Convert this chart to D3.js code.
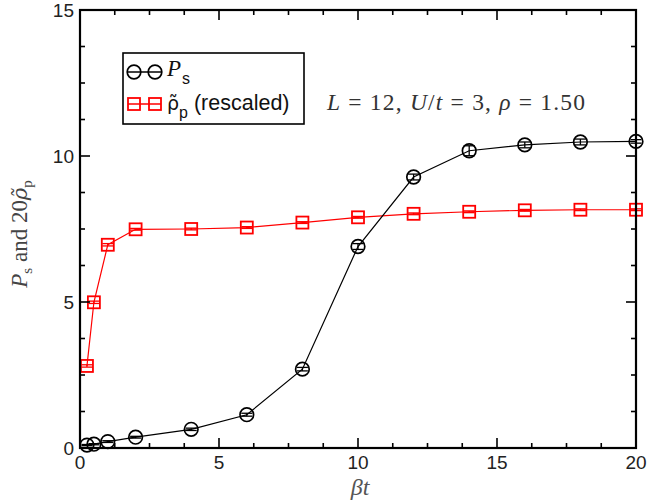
<!DOCTYPE html>
<html>
<head>
<meta charset="utf-8">
<script src="https://cdn.jsdelivr.net/npm/d3@7"></script>
<style>
  body { margin: 0; background: #fff; }
  svg { display: block; }
</style>
</head>
<body>
<div id="chart"></div>
<script>
// data
const betaT = [0.25, 0.5, 1, 2, 4, 6, 8, 10, 12, 14, 16, 18, 20];
const psVals = [0.10, 0.13, 0.22, 0.37, 0.64, 1.14, 2.70, 6.90, 9.28, 10.18, 10.38, 10.48, 10.50];
const psErr = [0.02, 0.02, 0.03, 0.03, 0.04, 0.05, 0.06, 0.10, 0.10, 0.17, 0.10, 0.10, 0.06];
const rhoVals = [2.81, 4.99, 6.96, 7.49, 7.50, 7.55, 7.72, 7.90, 8.02, 8.09, 8.14, 8.16, 8.16];
const rhoErr = [0.04, 0.04, 0.04, 0.03, 0.03, 0.03, 0.03, 0.03, 0.03, 0.03, 0.03, 0.03, 0.03];
const xTicks = [0, 5, 10, 15, 20];
const yTicks = [0, 5, 10, 15];

const W = 648, H = 502;
const m = { left: 80, right: 12, top: 10, bottom: 54 };
const svg = d3.select('#chart').append('svg').attr('width', W).attr('height', H);

const x = d3.scaleLinear().domain([0, 20]).range([m.left, W - m.right]);
const y = d3.scaleLinear().domain([0, 15]).range([H - m.bottom, m.top]);

const sans = '"Liberation Sans", Arial, sans-serif';
const serif = '"Liberation Serif", "DejaVu Serif", serif';

// lines
const line = (vals) => d3.line().x((d, i) => x(betaT[i])).y(d => y(d))(vals);
svg.append('path').attr('d', line(rhoVals)).attr('fill', 'none').attr('stroke', '#ff0000').attr('stroke-width', 1.2);
svg.append('path').attr('d', line(psVals)).attr('fill', 'none').attr('stroke', '#000').attr('stroke-width', 1.2);

function errBars(vals, errs, color, cap) {
  const g = svg.append('g').attr('stroke', color).attr('stroke-width', 1.3);
  vals.forEach((v, i) => {
    const cx = x(betaT[i]);
    g.append('line').attr('x1', cx).attr('x2', cx).attr('y1', y(v - errs[i])).attr('y2', y(v + errs[i]));
    [v - errs[i], v + errs[i]].forEach(e => {
      g.append('line').attr('x1', cx - cap).attr('x2', cx + cap).attr('y1', y(e)).attr('y2', y(e));
    });
  });
}
errBars(rhoVals, rhoErr, '#ff0000', 5.5);
errBars(psVals, psErr, '#000', 5.5);

// symbols
svg.append('g').selectAll('rect').data(rhoVals).join('rect')
  .attr('x', (d, i) => x(betaT[i]) - 6).attr('y', d => y(d) - 6)
  .attr('width', 12).attr('height', 12)
  .attr('fill', 'none').attr('stroke', '#ff0000').attr('stroke-width', 1.8);
svg.append('g').selectAll('circle').data(psVals).join('circle')
  .attr('cx', (d, i) => x(betaT[i])).attr('cy', d => y(d)).attr('r', 6.8)
  .attr('fill', 'none').attr('stroke', '#000').attr('stroke-width', 1.7);

// frame and ticks (inward on all sides)
const x0 = x(0), x1 = x(20), y0 = y(0), y1 = y(15);
const ax = svg.append('g').attr('stroke', '#000');
d3.range(0, 20.01, 1.25).forEach(v => {
  const major = Math.abs(v % 5) < 1e-9;
  const len = major ? 10 : 5;
  ax.append('line').attr('x1', x(v)).attr('x2', x(v)).attr('y1', y0).attr('y2', y0 - len).attr('stroke-width', 1.6);
  ax.append('line').attr('x1', x(v)).attr('x2', x(v)).attr('y1', y1).attr('y2', y1 + len).attr('stroke-width', 1.6);
});
d3.range(0, 15.01, 1.25).forEach(v => {
  const major = Math.abs(v % 5) < 1e-9;
  const len = major ? 10 : 5;
  ax.append('line').attr('x1', x0).attr('x2', x0 + len).attr('y1', y(v)).attr('y2', y(v)).attr('stroke-width', 1.6);
  ax.append('line').attr('x1', x1).attr('x2', x1 - len).attr('y1', y(v)).attr('y2', y(v)).attr('stroke-width', 1.6);
});
ax.append('rect').attr('x', x0).attr('y', y1).attr('width', x1 - x0).attr('height', y0 - y1)
  .attr('fill', 'none').attr('stroke-width', 2.2);

// tick labels
svg.append('g').selectAll('text').data(xTicks).join('text')
  .attr('x', d => x(d)).attr('y', y0 + 21).attr('text-anchor', 'middle')
  .attr('font-family', sans).attr('font-size', 19).attr('fill', '#222').text(d => d);
svg.append('g').selectAll('text').data(yTicks).join('text')
  .attr('x', x0 - 6).attr('y', d => y(d) + 7).attr('text-anchor', 'end')
  .attr('font-family', sans).attr('font-size', 19).attr('fill', '#222').text(d => d);

// axis titles
svg.append('text').attr('x', 360).attr('y', 495).attr('text-anchor', 'middle')
  .attr('font-family', serif).attr('font-style', 'italic').attr('font-size', 24).attr('fill', '#555')
  .text('βt');

const yl = svg.append('text').attr('transform', 'translate(27,234) rotate(-90)').attr('text-anchor', 'middle')
  .attr('font-family', serif).attr('font-size', 23).attr('fill', '#444');
yl.append('tspan').attr('font-style', 'italic').text('P');
yl.append('tspan').attr('font-size', 15).attr('dy', 5).text('s');
yl.append('tspan').attr('dy', -5).text(' and 20');
yl.append('tspan').attr('font-family', '"DejaVu Serif", serif').attr('font-style', 'italic').attr('font-size', 21).text('ρ̃');
yl.append('tspan').attr('font-size', 15).attr('dy', 5).text('p');

// legend
const lg = svg.append('g');
lg.append('rect').attr('x', 123).attr('y', 53).attr('width', 181).attr('height', 71)
  .attr('fill', '#fff').attr('stroke', '#000').attr('stroke-width', 1.6);
[[72, '#000', 'c'], [104, '#ff0000', 's']].forEach(([ly, col, sym]) => {
  lg.append('line').attr('x1', 128).attr('x2', 161).attr('y1', ly).attr('y2', ly).attr('stroke', col).attr('stroke-width', 1.3);
  [134, 155].forEach(cx => {
    if (sym === 'c') lg.append('circle').attr('cx', cx).attr('cy', ly).attr('r', 6.8).attr('fill', 'none').attr('stroke', col).attr('stroke-width', 1.7);
    else lg.append('rect').attr('x', cx - 6).attr('y', ly - 6).attr('width', 12).attr('height', 12).attr('fill', 'none').attr('stroke', col).attr('stroke-width', 1.8);
  });
});
const t1 = lg.append('text').attr('x', 167).attr('y', 76).attr('font-size', 23).attr('fill', '#111');
t1.append('tspan').attr('font-family', serif).attr('font-style', 'italic').text('P');
t1.append('tspan').attr('font-family', sans).attr('font-size', 16).attr('dy', 8).attr('dx', 1).text('s');
const t2 = lg.append('text').attr('x', 167).attr('y', 110).attr('font-family', sans).attr('font-size', 21.5).attr('fill', '#111');
t2.append('tspan').attr('font-family', '"DejaVu Sans", sans-serif').attr('font-size', 19).text('ρ̃');
t2.append('tspan').attr('font-size', 16).attr('dy', 8).text('p');
t2.append('tspan').attr('dy', -8).text(' (rescaled)');

// annotation
const an = svg.append('text').attr('x', 327).attr('y', 110).attr('font-family', serif).attr('font-size', 23.5)
  .attr('fill', '#333').attr('textLength', 258).attr('lengthAdjust', 'spacing');
an.append('tspan').attr('font-style', 'italic').text('L');
an.append('tspan').text(' = 12, ');
an.append('tspan').attr('font-style', 'italic').text('U');
an.append('tspan').text('/');
an.append('tspan').attr('font-style', 'italic').text('t');
an.append('tspan').text(' = 3, ');
an.append('tspan').attr('font-style', 'italic').text('ρ');
an.append('tspan').text(' = 1.50');
</script>
</body>
</html>
